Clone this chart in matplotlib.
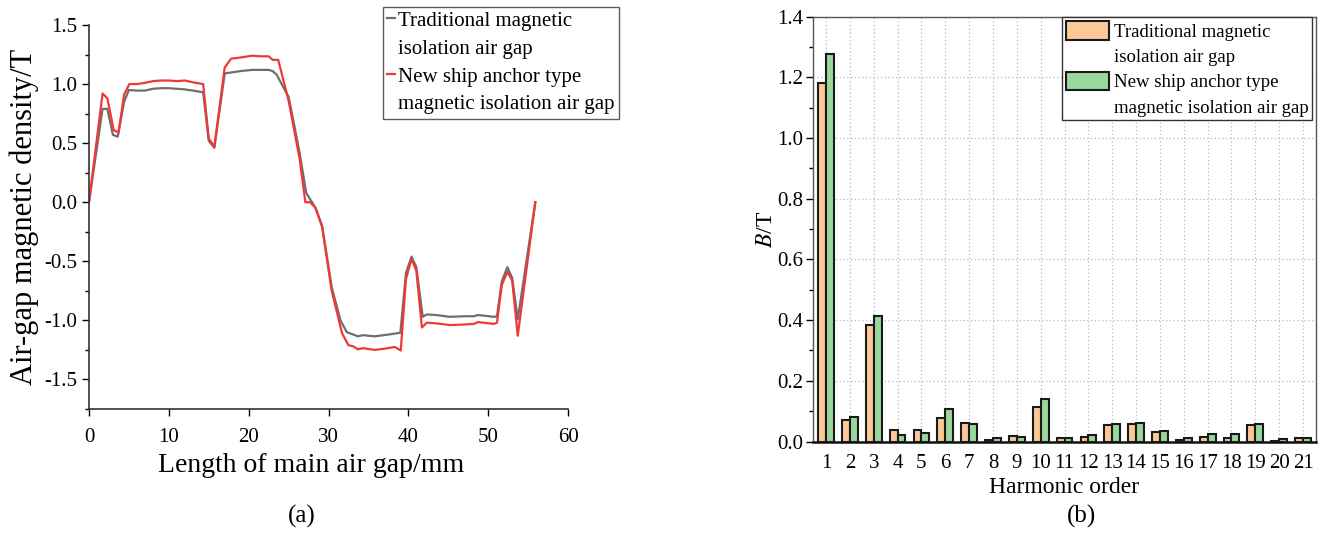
import numpy as np
import matplotlib.pyplot as plt
from matplotlib.ticker import MultipleLocator
from matplotlib.lines import Line2D
from matplotlib.patches import Patch

plt.rcParams['font.family'] = ['Liberation Serif', 'DejaVu Serif']
plt.rcParams['mathtext.fontset'] = 'stix'
plt.rcParams['axes.unicode_minus'] = False

# (a) air-gap flux density along the main air gap
x_trad = [0, 1.7, 2.3, 3.0, 3.6, 4.4, 5.0, 6.0, 7.0, 8.0, 9.0, 10.0, 11.0, 12.0, 13.0, 14.3,
          15.0, 15.7, 17.0, 18.0, 19.0, 20.4, 22.5, 23.0, 23.5, 25.0, 25.6, 26.4, 27.2, 28.3,
          29.2, 30.4, 31.5, 32.3, 33.7, 34.3, 35.8, 37.5, 39.0, 39.7, 40.4, 41.0, 41.8, 42.3,
          43.5, 45.2, 47.0, 48.2, 48.7, 49.5, 50.7, 51.1, 51.7, 52.4, 53.0, 53.7, 55.9]
b_trad = [0, 0.79, 0.79, 0.57, 0.555, 0.85, 0.95, 0.945, 0.945, 0.96, 0.965, 0.965, 0.96, 0.955,
          0.945, 0.93, 0.52, 0.46, 1.09, 1.10, 1.11, 1.12, 1.12, 1.11, 1.08, 0.89, 0.69, 0.41,
          0.08, -0.04, -0.2, -0.72, -1.0, -1.10, -1.135, -1.125, -1.135, -1.12, -1.105, -0.6,
          -0.46, -0.55, -0.97, -0.95, -0.955, -0.97, -0.965, -0.965, -0.955, -0.96, -0.97,
          -0.965, -0.67, -0.55, -0.64, -0.99, 0.0]

x_new = [0, 1.7, 2.3, 3.1, 3.7, 4.4, 5.05, 6.0, 7.0, 8.0, 9.0, 10.0, 11.0, 12.0, 13.0, 14.3,
         15.0, 15.7, 17.0, 17.8, 19.0, 20.4, 21.5, 22.5, 23.0, 23.7, 25.0, 26.4, 27.1, 27.7,
         28.4, 29.2, 30.4, 31.7, 32.5, 33.1, 33.7, 34.3, 35.8, 37.0, 38.3, 39.05, 39.7, 40.4,
         41.0, 41.7, 42.3, 43.5, 45.2, 47.0, 48.2, 48.7, 49.5, 50.7, 51.1, 51.7, 52.4, 53.0,
         53.7, 55.9]
b_new = [0, 0.92, 0.88, 0.61, 0.59, 0.91, 1.0, 1.0, 1.01, 1.025, 1.03, 1.03, 1.025, 1.03, 1.015,
         1.0, 0.54, 0.47, 1.14, 1.215, 1.225, 1.24, 1.235, 1.235, 1.205, 1.205, 0.86, 0.36, 0.0,
         0.0, -0.05, -0.21, -0.75, -1.11, -1.21, -1.22, -1.245, -1.235, -1.25, -1.24, -1.225,
         -1.255, -0.65, -0.48, -0.58, -1.06, -1.02, -1.025, -1.04, -1.035, -1.03, -1.015, -1.02,
         -1.03, -1.02, -0.70, -0.59, -0.66, -1.13, 0.0]

# (b) harmonic amplitudes
orders = list(range(1, 22))
h_trad = [1.18, 0.07, 0.385, 0.038, 0.038, 0.078, 0.061, 0.005, 0.019, 0.115, 0.012,
          0.016, 0.053, 0.058, 0.032, 0.005, 0.016, 0.012, 0.055, 0.002, 0.01]
h_new = [1.277, 0.082, 0.413, 0.022, 0.027, 0.107, 0.059, 0.012, 0.015, 0.14, 0.012,
         0.022, 0.058, 0.06, 0.035, 0.01, 0.024, 0.024, 0.058, 0.008, 0.01]

lbl_trad = ['Traditional magnetic', 'isolation air gap']
lbl_new = ['New ship anchor type', 'magnetic isolation air gap']

c_gray, c_red = '#6e6e6e', '#ef3838'
c_orange, c_green = '#fdc898', '#9ad79a'

fig = plt.figure(figsize=(13.3, 5.34), dpi=100)

# ---- left plot
ax1 = fig.add_axes([0.0669, 0.2341, 0.3602, 0.7191])
ax1.plot(x_trad, b_trad, color=c_gray, lw=1.6)
ax1.plot(x_new, b_new, color=c_red, lw=1.6)
ax1.set_xlim(0, 60)
ax1.set_ylim(-1.75, 1.5)
ax1.set_xticks(np.arange(0, 61, 10))
ax1.set_yticks(np.arange(-1.5, 1.51, 0.5))
ax1.yaxis.set_minor_locator(MultipleLocator(0.25))
ax1.spines['top'].set_visible(False)
ax1.spines['right'].set_visible(False)
for s in ['left', 'bottom']:
    ax1.spines[s].set_linewidth(1.2)
    ax1.spines[s].set_color('#333333')
ax1.tick_params(which='both', direction='out', width=1.0, labelsize=15)
ax1.tick_params(which='major', length=5)
ax1.tick_params(which='minor', length=3)
ax1.tick_params(axis='x', pad=9)
ax1.set_xlabel('Length of main air gap/mm', fontsize=20, labelpad=7)
ax1.xaxis.set_label_coords(0.463, -0.115)
ax1.set_ylabel('Air-gap magnetic density/T', fontsize=22, labelpad=4)

blank = Line2D([], [], ls='none')
h1 = [Line2D([], [], color=c_gray, lw=1.6), blank, Line2D([], [], color=c_red, lw=1.6), blank]
leg1 = ax1.legend(h1, [lbl_trad[0], lbl_trad[1], lbl_new[0], lbl_new[1]],
                  loc='upper left', bbox_to_anchor=(0.613, 1.047), fontsize=15,
                  frameon=True, fancybox=False, edgecolor='#333333', handlelength=0.4,
                  handletextpad=0.15, borderpad=0.2, labelspacing=0.4, borderaxespad=0)
leg1.get_frame().set_linewidth(1.0)
fig.text(0.2267, 0.032, '(a)', fontsize=18, ha='center', va='center')

# ---- right plot
ax2 = fig.add_axes([0.6113, 0.1732, 0.3782, 0.7959])
w = 0.33
xs = np.array(orders)
ax2.bar(xs - w / 2, h_trad, width=w, color=c_orange, edgecolor='#1a1a1a', lw=1.5, zorder=3)
ax2.bar(xs + w / 2, h_new, width=w, color=c_green, edgecolor='#1a1a1a', lw=1.5, zorder=3)
ax2.set_xlim(0.455, 21.545)
ax2.set_ylim(0, 1.4)
ax2.set_xticks(orders)
ax2.set_yticks(np.arange(0, 1.41, 0.2))
ax2.yaxis.set_minor_locator(MultipleLocator(0.1))
ax2.grid(True, which='major', ls=(0, (1, 2)), color='#b8b8b8', lw=0.9, zorder=0)
for s in ax2.spines.values():
    s.set_linewidth(1.0)
    s.set_color('#555555')
ax2.spines['bottom'].set_linewidth(1.8)
ax2.spines['bottom'].set_color('#111111')
ax2.tick_params(which='both', direction='out', width=1.0, labelsize=15)
ax2.tick_params(axis='x', length=0, pad=9)
ax2.tick_params(which='major', axis='y', length=5, pad=2)
ax2.tick_params(which='minor', length=3)
ax2.set_xlabel('Harmonic order', fontsize=17, labelpad=3)
ax2.set_ylabel('$\\mathit{B}$/T', fontsize=17, labelpad=0)

h2 = [Patch(facecolor=c_orange, edgecolor='#1a1a1a', lw=1.5), blank,
      Patch(facecolor=c_green, edgecolor='#1a1a1a', lw=1.5), blank]
leg2 = ax2.legend(h2, [lbl_trad[0], lbl_trad[1], lbl_new[0], lbl_new[1]],
                  loc='upper right', bbox_to_anchor=(0.992, 0.998), fontsize=13.5,
                  frameon=True, fancybox=False, edgecolor='#333333', handlelength=2.3,
                  handleheight=1.15, handletextpad=0.25, borderpad=0.2, labelspacing=0.3,
                  borderaxespad=0, framealpha=1)
leg2.get_frame().set_linewidth(1.0)
fig.text(0.8135, 0.032, '(b)', fontsize=18, ha='center', va='center')

fig.savefig('out.png', dpi=100)
